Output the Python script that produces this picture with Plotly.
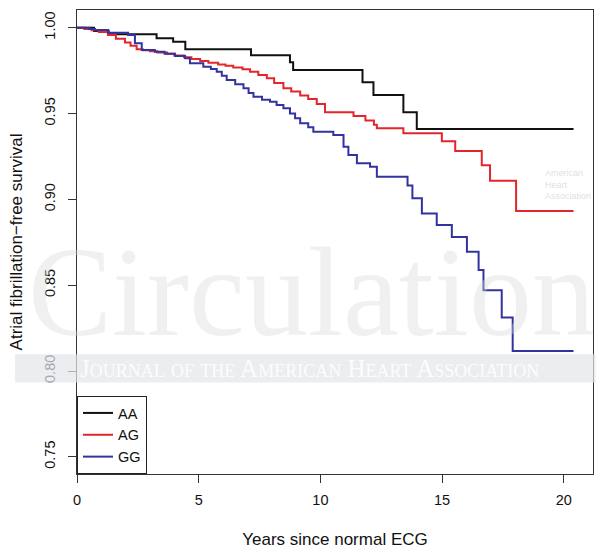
import plotly.graph_objects as go

# Kaplan-Meier step data (time in years, survival after each step)
aa_time = [0, 0.7, 1.3, 3.27, 3.95, 4.45, 7.15, 8.75, 8.88, 11.73, 12.18, 13.41, 13.96, 20.4]
aa_surv = [1.0, 0.998, 0.9962, 0.9938, 0.9918, 0.9874, 0.984, 0.9798, 0.9754, 0.9682, 0.9608, 0.9507, 0.941, 0.941]

ag_time = [0, 0.3, 0.6, 0.9, 1.27, 1.6, 1.97, 2.2, 2.45, 2.7, 3.0, 3.3, 3.7, 4.0, 4.4, 4.7,
           5.06, 5.4, 5.8, 6.1, 6.42, 6.8, 7.11, 7.45, 7.8, 8.1, 8.48, 8.8, 9.17, 9.5, 9.85,
           10.19, 11.36, 11.85, 12.2, 12.32, 13.41, 14.99, 15.54, 16.63, 16.97, 18.04, 20.4]
ag_surv = [1.0, 0.9993, 0.9985, 0.9975, 0.9957, 0.9935, 0.9913, 0.9895, 0.9874, 0.9868, 0.9862,
           0.9856, 0.9848, 0.9838, 0.9828, 0.9818, 0.9806, 0.9795, 0.9785, 0.9778, 0.9768, 0.9758,
           0.9744, 0.9725, 0.9705, 0.9678, 0.9647, 0.9628, 0.9605, 0.9585, 0.9555, 0.9508, 0.9485,
           0.946, 0.9435, 0.9414, 0.9385, 0.9338, 0.9282, 0.9198, 0.9108, 0.8932, 0.8932]

gg_time = [0, 0.5, 0.74, 1.28, 2.1, 2.38, 2.66, 3.2, 3.6, 4.03, 4.44, 4.64, 5.19, 5.5, 5.74,
           5.95, 6.15, 6.5, 6.84, 7.05, 7.25, 7.6, 7.93, 8.2, 8.48, 8.75, 8.96, 9.17, 9.5, 9.71,
           10.53, 10.95, 11.15, 11.5, 12.04, 12.32, 13.58, 13.78, 14.17, 14.78, 15.4, 16.02,
           16.5, 16.7, 17.45, 17.9, 20.4]
gg_surv = [1.0, 0.9993, 0.9987, 0.997, 0.9957, 0.991, 0.987, 0.986, 0.9848, 0.9835, 0.9822,
           0.9793, 0.9773, 0.976, 0.9744, 0.972, 0.9695, 0.967, 0.9647, 0.962, 0.9598, 0.958,
           0.9569, 0.955, 0.953, 0.95, 0.9472, 0.9443, 0.942, 0.9394, 0.9375, 0.9307, 0.9258,
           0.921, 0.919, 0.9132, 0.908, 0.9006, 0.8918, 0.885, 0.878, 0.8695, 0.8588, 0.8471,
           0.8312, 0.8116, 0.8116]

series_names = ["AA", "AG", "GG"]
series_colors = ["#111111", "#e3262b", "#33339f"]

x_ticks = [0, 5, 10, 15, 20]
y_ticks = [0.75, 0.80, 0.85, 0.90, 0.95, 1.00]

FONT = "Liberation Sans, Arial, sans-serif"

fig = go.Figure()
for name, t, s, c in zip(series_names, [aa_time, ag_time, gg_time],
                         [aa_surv, ag_surv, gg_surv], series_colors):
    fig.add_trace(go.Scatter(x=t, y=s, mode="lines", name=name,
                             line=dict(color=c, width=2, shape="hv")))

fig.update_layout(
    width=600, height=552,
    margin=dict(l=77, r=7, t=10, b=78),
    paper_bgcolor="white", plot_bgcolor="white",
    font=dict(family=FONT, size=14.5, color="#111"),
    showlegend=True,
    legend=dict(x=0, y=0, xanchor="left", yanchor="bottom",
                bgcolor="white", bordercolor="#222", borderwidth=1,
                font=dict(size=14.5), tracegroupgap=0, itemwidth=30),
    xaxis=dict(range=[0, 21.2], tickvals=x_ticks, ticks="outside", ticklen=8,
               automargin=False, ticklabelstandoff=5,
               showgrid=False, zeroline=False, showline=True, mirror=True,
               linecolor="#333", linewidth=1, tickcolor="#333",
               title=dict(text="Years since normal ECG", standoff=25)),
    yaxis=dict(range=[0.74, 1.0103], tickvals=y_ticks, tickformat=".2f",
               ticks="outside", ticklen=8, tickangle=-90, automargin=False,
               ticklabelstandoff=7,
               showgrid=False, zeroline=False, showline=True, mirror=True,
               linecolor="#333", linewidth=1, tickcolor="#333",
               title=dict(text="Atrial fibrillation\u2212free survival", standoff=15)),
)

# Publisher watermark
fig.add_annotation(xref="paper", yref="paper", x=0.455, y=0.392, text="Circulation",
                   showarrow=False, xanchor="center", yanchor="middle",
                   font=dict(family="Liberation Serif, Times New Roman, serif", size=126,
                             color="rgba(215,215,215,0.38)"))
fig.add_shape(type="rect", xref="paper", yref="paper", x0=-0.12, x1=1.005,
              y0=0.197, y1=0.258, line=dict(width=0),
              fillcolor="rgba(226,230,234,0.7)", layer="above")
fig.add_annotation(xref="paper", yref="paper", x=0.45, y=0.228,
                   text="Journal of the American Heart Association",
                   showarrow=False, xanchor="center", yanchor="middle",
                   font=dict(family="Liberation Serif, serif", size=25, color="rgba(255,255,255,0.9)",
                             variant="small-caps"))
fig.add_annotation(xref="paper", yref="paper", x=1.0, y=0.625,
                   text="American<br>Heart<br>Association",
                   showarrow=False, xanchor="right", yanchor="middle", align="left",
                   font=dict(family=FONT, size=9, color="rgba(215,215,215,0.8)"))

fig.write_html("out.html", config={"displayModeBar": False},
               post_script="document.body.style.margin='0';document.body.style.overflow='hidden';")
